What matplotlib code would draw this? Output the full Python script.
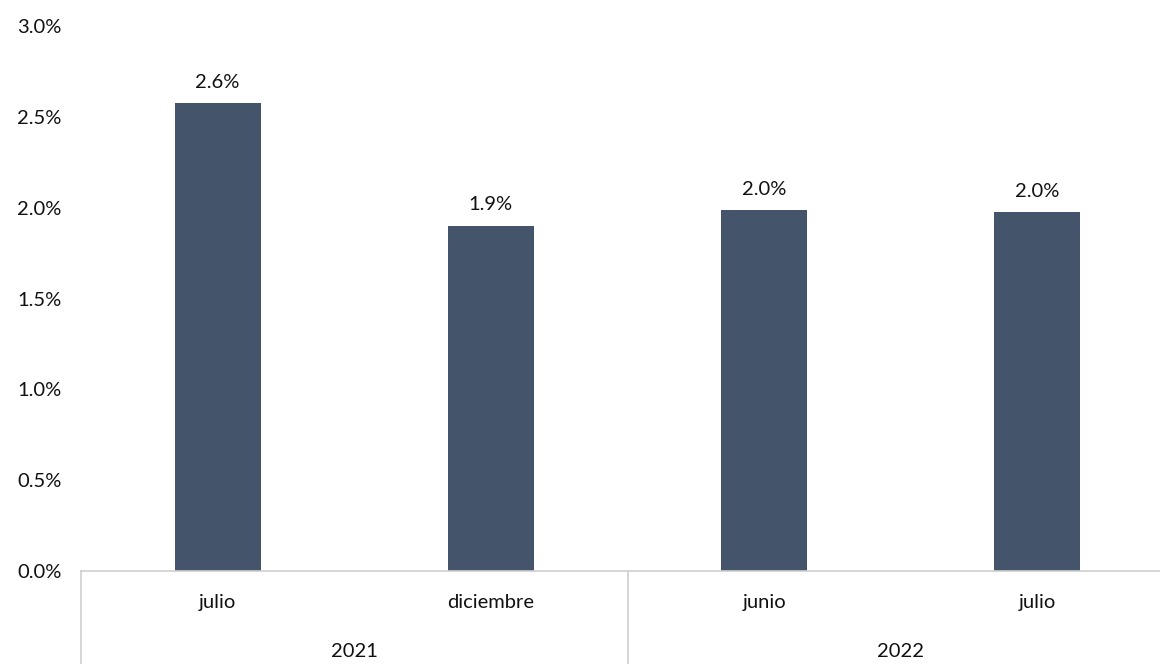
import matplotlib.pyplot as plt
from matplotlib.lines import Line2D

# Data
months = ['julio', 'diciembre', 'junio', 'julio']
years = ['2021', '2022']
year_sizes = [2, 2]
values = [2.575, 1.90, 1.985, 1.975]
labels = ['2.6%', '1.9%', '2.0%', '2.0%']

plt.rcParams['font.family'] = ['Lato', 'DejaVu Sans']
fs = 14.5

fig = plt.figure(figsize=(11.6, 6.64), dpi=100)
ax = fig.add_axes([81 / 1160, 1 - 571 / 664, 1093 / 1160, (571 - 26) / 664])

x = list(range(len(values)))
ax.bar(x, values, width=0.315, color='#44546a', zorder=2)
for xi, v, lab in zip(x, values, labels):
    ax.annotate(lab, (xi, v), xytext=(0, 9), textcoords='offset points',
                ha='center', va='bottom', fontsize=fs, color='#111111')

ax.set_xlim(-0.5, len(values) - 0.5)
ax.set_ylim(0, 3.0)
ax.set_yticks([0, 0.5, 1.0, 1.5, 2.0, 2.5, 3.0])
ax.set_yticklabels([f'{t:.1f}%' for t in ax.get_yticks()])
ax.tick_params(axis='y', length=0, labelsize=fs, pad=14, colors='#111111')
ax.set_xticks([])

for s in ['top', 'right', 'left']:
    ax.spines[s].set_visible(False)
ax.spines['bottom'].set_color('#d0d0d0')
ax.spines['bottom'].set_linewidth(1.2)

# Month labels
for xi, m in zip(x, months):
    ax.text(xi, -32 / 181.7, m, ha='center', va='center', fontsize=fs,
            color='#111111', clip_on=False)

# Year labels and separators
start = 0
bounds = [-0.5]
for y, n in zip(years, year_sizes):
    center = start + (n - 1) / 2
    ax.text(center, -81 / 181.7, y, ha='center', va='center', fontsize=fs,
            color='#111111', clip_on=False)
    start += n
    bounds.append(start - 0.5)
for b in bounds:
    ax.add_line(Line2D([b, b], [0, -0.6], color='#d0d0d0', lw=1.2,
                       clip_on=False))

fig.savefig('out.png', dpi=100)
